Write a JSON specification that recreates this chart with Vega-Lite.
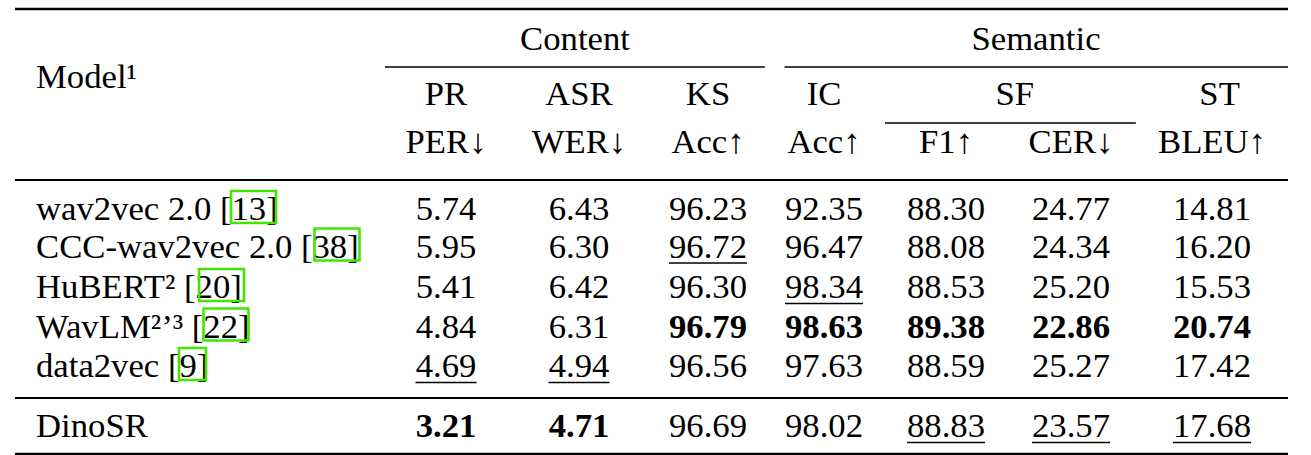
{
  "$schema": "https://vega.github.io/schema/vega-lite/v6.json",
  "description": "Results table: content and semantic tasks for self-supervised speech models",
  "width": 1311,
  "height": 455,
  "autosize": {"type": "none"},
  "padding": 0,
  "background": "white",
  "config": {"view": {"stroke": null}},
  "datasets": {
    "rules": [
      {"kind": "top", "from": -0.5, "to": 7.5, "row": 0.5},
      {"kind": "cmid", "from": 0.5, "to": 3.49, "row": 1.5},
      {"kind": "cmid", "from": 3.66, "to": 7.5, "row": 1.5},
      {"kind": "cmid", "from": 4.5, "to": 6.46, "row": 2.5},
      {"kind": "mid", "from": -0.5, "to": 7.5, "row": 3.5},
      {"kind": "mid", "from": -0.5, "to": 7.5, "row": 8.5},
      {"kind": "top", "from": -0.5, "to": 7.5, "row": 9.5}
    ],
    "header": [
      {"label": "Content", "col": 1.97, "row": 1},
      {"label": "Semantic", "col": 5.72, "row": 1},
      {"label": "PR", "col": 1, "row": 2},
      {"label": "ASR", "col": 2, "row": 2},
      {"label": "KS", "col": 3, "row": 2},
      {"label": "IC", "col": 4, "row": 2},
      {"label": "SF", "col": 5.55, "row": 2},
      {"label": "ST", "col": 7.05, "row": 2},
      {"label": "PER↓", "col": 1, "row": 3},
      {"label": "WER↓", "col": 2, "row": 3},
      {"label": "Acc↑", "col": 3, "row": 3},
      {"label": "Acc↑", "col": 4, "row": 3},
      {"label": "F1↑", "col": 5, "row": 3},
      {"label": "CER↓", "col": 6, "row": 3},
      {"label": "BLEU↑", "col": 7, "row": 3}
    ],
    "models": [
      {"label": "Model¹", "row": 1.78},
      {"label": "wav2vec 2.0 [13]", "row": 4, "ref": "13", "refPos": 0.3116},
      {"label": "CCC-wav2vec 2.0 [38]", "row": 5, "ref": "38", "refPos": 0.4312},
      {"label": "HuBERT² [20]", "row": 6, "ref": "20", "refPos": 0.2658},
      {"label": "WavLM²’³ [22]", "row": 7, "ref": "22", "refPos": 0.2722},
      {"label": "data2vec [9]", "row": 8, "ref": "9", "refPos": 0.2242},
      {"label": "DinoSR", "row": 9}
    ],
    "cells": [
      {"model": "wav2vec 2.0", "row": 4, "col": 1, "value": "5.74"},
      {"model": "wav2vec 2.0", "row": 4, "col": 2, "value": "6.43"},
      {"model": "wav2vec 2.0", "row": 4, "col": 3, "value": "96.23"},
      {"model": "wav2vec 2.0", "row": 4, "col": 4, "value": "92.35"},
      {"model": "wav2vec 2.0", "row": 4, "col": 5, "value": "88.30"},
      {"model": "wav2vec 2.0", "row": 4, "col": 6, "value": "24.77"},
      {"model": "wav2vec 2.0", "row": 4, "col": 7, "value": "14.81"},
      {"model": "CCC-wav2vec 2.0", "row": 5, "col": 1, "value": "5.95"},
      {"model": "CCC-wav2vec 2.0", "row": 5, "col": 2, "value": "6.30"},
      {"model": "CCC-wav2vec 2.0", "row": 5, "col": 3, "value": "96.72", "second": true},
      {"model": "CCC-wav2vec 2.0", "row": 5, "col": 4, "value": "96.47"},
      {"model": "CCC-wav2vec 2.0", "row": 5, "col": 5, "value": "88.08"},
      {"model": "CCC-wav2vec 2.0", "row": 5, "col": 6, "value": "24.34"},
      {"model": "CCC-wav2vec 2.0", "row": 5, "col": 7, "value": "16.20"},
      {"model": "HuBERT", "row": 6, "col": 1, "value": "5.41"},
      {"model": "HuBERT", "row": 6, "col": 2, "value": "6.42"},
      {"model": "HuBERT", "row": 6, "col": 3, "value": "96.30"},
      {"model": "HuBERT", "row": 6, "col": 4, "value": "98.34", "second": true},
      {"model": "HuBERT", "row": 6, "col": 5, "value": "88.53"},
      {"model": "HuBERT", "row": 6, "col": 6, "value": "25.20"},
      {"model": "HuBERT", "row": 6, "col": 7, "value": "15.53"},
      {"model": "WavLM", "row": 7, "col": 1, "value": "4.84"},
      {"model": "WavLM", "row": 7, "col": 2, "value": "6.31"},
      {"model": "WavLM", "row": 7, "col": 3, "value": "96.79", "best": true},
      {"model": "WavLM", "row": 7, "col": 4, "value": "98.63", "best": true},
      {"model": "WavLM", "row": 7, "col": 5, "value": "89.38", "best": true},
      {"model": "WavLM", "row": 7, "col": 6, "value": "22.86", "best": true},
      {"model": "WavLM", "row": 7, "col": 7, "value": "20.74", "best": true},
      {"model": "data2vec", "row": 8, "col": 1, "value": "4.69", "second": true},
      {"model": "data2vec", "row": 8, "col": 2, "value": "4.94", "second": true},
      {"model": "data2vec", "row": 8, "col": 3, "value": "96.56"},
      {"model": "data2vec", "row": 8, "col": 4, "value": "97.63"},
      {"model": "data2vec", "row": 8, "col": 5, "value": "88.59"},
      {"model": "data2vec", "row": 8, "col": 6, "value": "25.27"},
      {"model": "data2vec", "row": 8, "col": 7, "value": "17.42"},
      {"model": "DinoSR", "row": 9, "col": 1, "value": "3.21", "best": true},
      {"model": "DinoSR", "row": 9, "col": 2, "value": "4.71", "best": true},
      {"model": "DinoSR", "row": 9, "col": 3, "value": "96.69"},
      {"model": "DinoSR", "row": 9, "col": 4, "value": "98.02"},
      {"model": "DinoSR", "row": 9, "col": 5, "value": "88.83", "second": true},
      {"model": "DinoSR", "row": 9, "col": 6, "value": "23.57", "second": true},
      {"model": "DinoSR", "row": 9, "col": 7, "value": "17.68", "second": true}
    ]
  },
  "layer": [
    {
      "data": {"name": "rules"},
      "mark": {"type": "rule", "color": "black"},
      "encoding": {
        "x": {"field": "from", "type": "quantitative", "axis": null,
              "scale": {"domain": [-0.5, 0, 0.5, 1, 2, 3, 4, 5, 6, 7, 7.5], "range": [15, 36, 385, 446, 579, 708, 824, 946, 1071, 1212, 1288], "zero": false, "nice": false}},
        "x2": {"field": "to"},
        "y": {"field": "row", "type": "quantitative", "axis": null,
              "scale": {"domain": [0.5, 1, 1.5, 2, 2.5, 3, 3.5, 4, 5, 6, 7, 8, 8.5, 9, 9.5], "range": [9, 50, 67, 105, 123, 153, 180, 220, 257.5, 298, 337.5, 377, 398, 437, 454], "zero": false, "nice": false}},
        "strokeWidth": {"field": "kind", "type": "nominal", "legend": null,
                        "scale": {"domain": ["top", "mid", "cmid"], "range": [2.7, 1.6, 1]}}
      }
    },
    {
      "data": {"name": "header"},
      "mark": {"type": "text", "font": "Liberation Serif, Times New Roman, serif", "fontSize": 34.7, "align": "center", "baseline": "alphabetic", "color": "black"},
      "encoding": {
        "x": {"field": "col", "type": "quantitative", "axis": null,
              "scale": {"domain": [-0.5, 0, 0.5, 1, 2, 3, 4, 5, 6, 7, 7.5], "range": [15, 36, 385, 446, 579, 708, 824, 946, 1071, 1212, 1288], "zero": false, "nice": false}},
        "y": {"field": "row", "type": "quantitative", "axis": null,
              "scale": {"domain": [0.5, 1, 1.5, 2, 2.5, 3, 3.5, 4, 5, 6, 7, 8, 8.5, 9, 9.5], "range": [9, 50, 67, 105, 123, 153, 180, 220, 257.5, 298, 337.5, 377, 398, 437, 454], "zero": false, "nice": false}},
        "text": {"field": "label"}
      }
    },
    {
      "data": {"name": "models"},
      "mark": {"type": "text", "font": "Liberation Serif, Times New Roman, serif", "fontSize": 34.7, "align": "left", "baseline": "alphabetic", "color": "black"},
      "encoding": {
        "x": {"datum": 0, "type": "quantitative", "axis": null,
              "scale": {"domain": [-0.5, 0, 0.5, 1, 2, 3, 4, 5, 6, 7, 7.5], "range": [15, 36, 385, 446, 579, 708, 824, 946, 1071, 1212, 1288], "zero": false, "nice": false}},
        "y": {"field": "row", "type": "quantitative", "axis": null,
              "scale": {"domain": [0.5, 1, 1.5, 2, 2.5, 3, 3.5, 4, 5, 6, 7, 8, 8.5, 9, 9.5], "range": [9, 50, 67, 105, 123, 153, 180, 220, 257.5, 298, 337.5, 377, 398, 437, 454], "zero": false, "nice": false}},
        "text": {"field": "label"}
      }
    },
    {
      "data": {"name": "models"},
      "transform": [{"filter": "datum.ref"}],
      "mark": {"type": "point", "filled": false, "opacity": 1, "stroke": "#44e600", "strokeWidth": 2.6, "size": 2025, "yOffset": -13},
      "encoding": {
        "x": {"field": "refPos", "type": "quantitative", "axis": null,
              "scale": {"domain": [-0.5, 0, 0.5, 1, 2, 3, 4, 5, 6, 7, 7.5], "range": [15, 36, 385, 446, 579, 708, 824, 946, 1071, 1212, 1288], "zero": false, "nice": false}},
        "y": {"field": "row", "type": "quantitative", "axis": null,
              "scale": {"domain": [0.5, 1, 1.5, 2, 2.5, 3, 3.5, 4, 5, 6, 7, 8, 8.5, 9, 9.5], "range": [9, 50, 67, 105, 123, 153, 180, 220, 257.5, 298, 337.5, 377, 398, 437, 454], "zero": false, "nice": false}},
        "shape": {"condition": {"test": "length(datum.ref) < 2", "value": "M-0.6,-0.711H0.6V0.711H-0.6Z"}, "value": "M-1,-0.711H1V0.711H-1Z"}
      }
    },
    {
      "data": {"name": "cells"},
      "transform": [{"filter": "!datum.best"}],
      "mark": {"type": "text", "font": "Liberation Serif, Times New Roman, serif", "fontSize": 34.7, "align": "center", "baseline": "alphabetic", "color": "black"},
      "encoding": {
        "x": {"field": "col", "type": "quantitative", "axis": null,
              "scale": {"domain": [-0.5, 0, 0.5, 1, 2, 3, 4, 5, 6, 7, 7.5], "range": [15, 36, 385, 446, 579, 708, 824, 946, 1071, 1212, 1288], "zero": false, "nice": false}},
        "y": {"field": "row", "type": "quantitative", "axis": null,
              "scale": {"domain": [0.5, 1, 1.5, 2, 2.5, 3, 3.5, 4, 5, 6, 7, 8, 8.5, 9, 9.5], "range": [9, 50, 67, 105, 123, 153, 180, 220, 257.5, 298, 337.5, 377, 398, 437, 454], "zero": false, "nice": false}},
        "text": {"field": "value"}
      }
    },
    {
      "data": {"name": "cells"},
      "transform": [{"filter": "datum.best"}],
      "mark": {"type": "text", "font": "Liberation Serif, Times New Roman, serif", "fontSize": 34.7, "fontWeight": "bold", "align": "center", "baseline": "alphabetic", "color": "black"},
      "encoding": {
        "x": {"field": "col", "type": "quantitative", "axis": null,
              "scale": {"domain": [-0.5, 0, 0.5, 1, 2, 3, 4, 5, 6, 7, 7.5], "range": [15, 36, 385, 446, 579, 708, 824, 946, 1071, 1212, 1288], "zero": false, "nice": false}},
        "y": {"field": "row", "type": "quantitative", "axis": null,
              "scale": {"domain": [0.5, 1, 1.5, 2, 2.5, 3, 3.5, 4, 5, 6, 7, 8, 8.5, 9, 9.5], "range": [9, 50, 67, 105, 123, 153, 180, 220, 257.5, 298, 337.5, 377, 398, 437, 454], "zero": false, "nice": false}},
        "text": {"field": "value"}
      }
    },
    {
      "data": {"name": "cells"},
      "transform": [{"filter": "datum.second"}],
      "mark": {"type": "tick", "orient": "horizontal", "thickness": 1.3, "yOffset": 5.5, "color": "black", "opacity": 1},
      "encoding": {
        "x": {"field": "col", "type": "quantitative", "axis": null,
              "scale": {"domain": [-0.5, 0, 0.5, 1, 2, 3, 4, 5, 6, 7, 7.5], "range": [15, 36, 385, 446, 579, 708, 824, 946, 1071, 1212, 1288], "zero": false, "nice": false}},
        "y": {"field": "row", "type": "quantitative", "axis": null,
              "scale": {"domain": [0.5, 1, 1.5, 2, 2.5, 3, 3.5, 4, 5, 6, 7, 8, 8.5, 9, 9.5], "range": [9, 50, 67, 105, 123, 153, 180, 220, 257.5, 298, 337.5, 377, 398, 437, 454], "zero": false, "nice": false}},
        "size": {"condition": {"test": "length(datum.value) > 4", "value": 78}, "value": 61}
      }
    }
  ]
}
